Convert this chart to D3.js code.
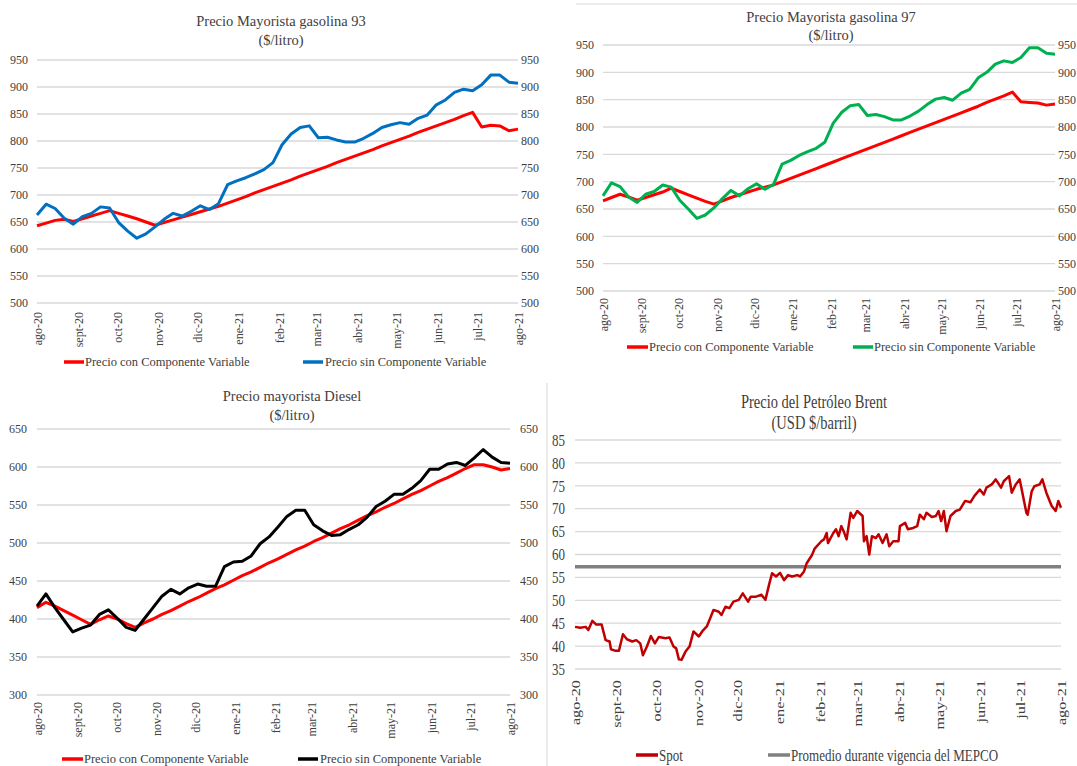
<!DOCTYPE html>
<html><head><meta charset="utf-8">
<script src="https://cdn.jsdelivr.net/npm/d3@7"></script>
<style>
html,body{margin:0;padding:0;background:#fff;}
svg{display:block;}
svg text{font-family:"Liberation Serif","Times New Roman",serif;}
</style></head><body>
<svg id="chart" width="1077" height="766"></svg>
<script>
// ---------- data ----------
const monthDates = ["2020-08-01","2020-09-01","2020-10-01","2020-11-01","2020-12-01","2021-01-01","2021-02-01","2021-03-01","2021-04-01","2021-05-01","2021-06-01","2021-07-01","2021-08-01"];
const monthLabels = ["ago-20","sept-20","oct-20","nov-20","dic-20","ene-21","feb-21","mar-21","abr-21","may-21","jun-21","jul-21","ago-21"];

const fuelTicks93 = [500,550,600,650,700,750,800,850,900,950];
const fuelTicksDiesel = [300,350,400,450,500,550,600,650];
const brentTicks = [35,40,45,50,55,60,65,70,75,80,85];

// Gasolina 93 (weekly)
const g93Con = [643,648,653,655,651,656,661,666,671,666,661,656,650,644,649,654,659,664,669,674,679,
  685,691,697,704,710,716,722,728,735,741,747,753,760,766,772,778,784,791,797,803,809,816,822,828,834,840,847,853,
  826,829,828,819,822];
const g93Sin = [663,683,675,657,646,660,666,678,676,649,633,620,628,641,655,666,661,670,680,673,684,719,726,732,739,747,
  760,793,813,825,828,806,807,802,798,798,805,814,825,830,834,831,842,848,867,876,890,896,893,904,922,922,909,907];

// Gasolina 97 (weekly)
const g97Con = [665,671,677,672,666,671,676,681,688,682,676,670,664,659,665,671,676,681,686,690,694,700,706,712,718,724,
  730,736,742,748,754,760,766,772,778,784,790,796,802,808,814,820,826,832,838,845,851,857,864,846,845,844,840,842];
const g97Sin = [674,698,691,672,662,677,682,694,690,666,650,633,639,652,669,684,674,687,696,686,695,732,739,748,755,761,
  772,807,827,839,841,821,823,819,813,813,820,829,841,851,854,849,862,869,890,900,915,921,918,927,945,945,935,933];

// Diesel (weekly)
const dieselCon = [415,422,417,411,405,399,393,399,404,400,394,389,395,400,406,411,417,423,428,434,440,445,451,457,462,468,
  474,479,485,491,496,502,507,513,519,524,530,536,541,547,552,558,564,569,575,581,586,592,598,603,603,600,596,598];
const dieselSin = [417,433,415,399,383,388,392,406,412,401,389,385,400,415,430,439,433,441,446,443,443,469,475,476,483,499,508,521,
  535,543,543,524,516,510,511,518,524,534,548,555,564,564,572,582,597,597,604,606,602,612,623,613,606,605];

// Brent spot (days since 2020-08-01, USD/barril)
const brentBase = "2020-08-01";
const brentDayOffsets = [0,4,8,10,13,16,20,23,26,27,30,33,36,39,43,46,49,51,54,57,60,63,68,71,74,76,78,80,83,86,89,93,96,99,101,104,108,110,113,116,119,123,126,130,132,136,140,143,146,148,151,154,157,160,163,167,169,172,174,178,180,
  185,187,189,190,192,194,196,198,200,202,204,207,209,212,216,217,219,221,223,226,228,231,234,236,239,243,244,248,250,254,257,259,262,264,268,271,273,275,277,279,282,286,289,293,297,300,304,307,309,313,316,320,322,326,328,331,334,336,339,340,343,345,349,351,354,357,358,361,363,365];
const brentSpot = [44.2,44.0,44.2,43.5,45.5,44.7,44.7,41.3,41.0,39.3,39.0,39.0,42.6,41.5,41.0,41.3,40.6,38.0,39.9,42.2,40.6,42.0,41.7,41.9,39.9,39.5,37.1,37.0,38.8,39.9,43.2,42.1,43.4,44.3,45.7,47.9,47.5,46.8,48.6,48.3,49.7,50.1,51.5,49.7,50.8,50.8,51.2,50.1,53.7,55.9,55.2,56.0,54.4,55.5,55.2,55.5,55.2,56.3,58.1,59.9,61.3,
  62.9,63.3,64.7,62.5,63.6,64.7,65.5,64.0,66.2,64.9,63.3,69.1,68.0,69.5,68.4,62.9,64.0,60.0,64.0,63.6,64.4,62.5,64.4,61.8,62.9,62.9,66.2,66.9,65.5,65.8,66.2,68.7,67.7,69.1,68.2,68.4,69.5,67.3,69.5,65.1,68.4,69.5,69.8,71.7,71.4,72.8,74.2,73.1,74.6,75.3,76.4,74.6,76.0,77.1,73.5,75.3,76.4,73.5,69.1,68.7,73.8,74.9,75.3,76.4,73.5,71.3,70.6,69.5,71.7,70.2];
const mepcoAvg = 57.3;

// ---------- drawing ----------
const FONT = '"Liberation Serif","Times New Roman",serif';
const TXT = "#404040";
const parse = d3.timeParse("%Y-%m-%d");
const svg = d3.select("#chart");
svg.append("rect").attr("width",1077).attr("height",766).attr("fill","#fff");

// frame lines visible in the reference
svg.append("line").attr("x1",576).attr("x2",1077).attr("y1",4).attr("y2",4).attr("stroke","#d9d9d9").attr("stroke-width",1);
svg.append("line").attr("x1",547).attr("x2",547).attr("y1",383).attr("y2",766).attr("stroke","#d9d9d9").attr("stroke-width",1);

function drawPanel(o) {
  const g = svg.append("g");
  const sy = o.textScale || 1;
  const y = d3.scaleLinear().domain([o.yTicks[0], o.yTicks[o.yTicks.length-1]]).range([o.yBottom, o.yTop]);
  const t = d3.scaleTime().domain([parse(monthDates[0]), parse(monthDates[monthDates.length-1])]).range([o.x0, o.x1]);

  // grid
  g.append("g").selectAll("line").data(o.yTicks).join("line")
    .attr("x1", o.x0).attr("x2", o.x1)
    .attr("y1", d => y(d)).attr("y2", d => y(d))
    .attr("stroke", "#d9d9d9").attr("stroke-width", 1.3);

  function styleAxis(sel, fs) {
    sel.attr("font-family", FONT).attr("font-size", fs);
    sel.select(".domain").remove();
    sel.selectAll("text").attr("fill", TXT).style("font-family", FONT).style("font-size", fs + "px");
  }
  // left axis
  const la = g.append("g").attr("transform", `translate(${o.leftX},0)`)
    .call(d3.axisLeft(y).tickValues(o.yTicks).tickSize(0).tickPadding(0).tickFormat(d3.format("d")));
  styleAxis(la, o.tickFont);
  if (sy !== 1) la.selectAll("text").attr("transform", `scale(1,${sy})`);
  // right axis
  if (o.rightX) {
    const ra = g.append("g").attr("transform", `translate(${o.rightX},0)`)
      .call(d3.axisRight(y).tickValues(o.yTicks).tickSize(0).tickPadding(0).tickFormat(d3.format("d")));
    styleAxis(ra, o.tickFont);
  }
  // bottom axis (rotated month labels)
  const ba = g.append("g").attr("transform", `translate(0,${o.xLabelTop})`)
    .call(d3.axisBottom(t).tickValues(monthDates.map(parse)).tickSize(0).tickFormat((d, i) => monthLabels[i]));
  styleAxis(ba, o.tickFont);
  ba.selectAll("text").attr("x", 0).attr("y", 0).attr("dy", "0.35em")
    .attr("text-anchor", "end")
    .attr("transform", sy !== 1 ? `scale(1,${sy}) rotate(-90)` : "rotate(-90)");

  // series
  o.series.forEach(s => {
    if (s.constant !== undefined) {
      g.append("line").attr("x1", o.x0).attr("x2", o.x1)
        .attr("y1", y(s.constant)).attr("y2", y(s.constant))
        .attr("stroke", s.color).attr("stroke-width", s.width);
      return;
    }
    let line;
    if (s.days) {
      const base = parse(s.base);
      line = d3.line().x((d, i) => t(d3.timeDay.offset(base, s.days[i]))).y(d => y(d));
    } else {
      const xi = d3.scaleLinear().domain([0, s.values.length - 1]).range([o.x0, o.x1]);
      line = d3.line().x((d, i) => xi(i)).y(d => y(d));
    }
    g.append("path").datum(s.values).attr("d", line)
      .attr("fill", "none").attr("stroke", s.color).attr("stroke-width", s.width)
      .attr("stroke-linejoin", "round").attr("stroke-linecap", "butt");
  });

  // title
  o.title.forEach((tt, i) => {
    g.append("text").attr("transform", `translate(${o.titleX},${o.titleY[i]}) scale(1,${sy})`)
      .attr("text-anchor", "middle").attr("fill", TXT)
      .style("font-family", FONT).style("font-size", o.titleFont + "px").text(tt);
  });

  // legend
  o.legend.forEach(l => {
    g.append("line").attr("x1", l.x0).attr("x2", l.x1).attr("y1", o.legendY).attr("y2", o.legendY)
      .attr("stroke", l.color).attr("stroke-width", l.width || 3.5);
    g.append("text").attr("transform", `translate(${l.tx},${o.legendY}) scale(1,${sy})`)
      .attr("dy", "0.35em").attr("fill", TXT)
      .style("font-family", FONT).style("font-size", o.legendFont + "px").text(l.label);
  });
}

const RED = "#ff0000", BLUE = "#0070c0", GREEN = "#00b050", BLACK = "#000000";

drawPanel({
  x0: 37, x1: 518, yTop: 60, yBottom: 303, yTicks: fuelTicks93,
  leftX: 28, rightX: 521, xLabelTop: 312,
  tickFont: 12, titleFont: 14.5, legendFont: 12.5,
  title: ["Precio Mayorista gasolina 93", "($/litro)"], titleX: 281, titleY: [26, 45],
  series: [{values: g93Con, color: RED, width: 3}, {values: g93Sin, color: BLUE, width: 3}],
  legendY: 362,
  legend: [{x0: 64, x1: 84, tx: 85, color: RED, label: "Precio con Componente Variable"},
           {x0: 303, x1: 323, tx: 325, color: BLUE, label: "Precio sin Componente Variable"}]
});

drawPanel({
  x0: 603, x1: 1055, yTop: 45, yBottom: 291, yTicks: fuelTicks93,
  leftX: 594, rightX: 1058, xLabelTop: 298,
  tickFont: 12, titleFont: 14.5, legendFont: 12.5,
  title: ["Precio Mayorista gasolina 97", "($/litro)"], titleX: 831, titleY: [22, 40],
  series: [{values: g97Con, color: RED, width: 3}, {values: g97Sin, color: GREEN, width: 3}],
  legendY: 347,
  legend: [{x0: 627, x1: 648, tx: 649, color: RED, label: "Precio con Componente Variable"},
           {x0: 853, x1: 873, tx: 874, color: GREEN, label: "Precio sin Componente Variable"}]
});

drawPanel({
  x0: 37, x1: 510, yTop: 429, yBottom: 695, yTicks: fuelTicksDiesel,
  leftX: 27, rightX: 520, xLabelTop: 702,
  tickFont: 12, titleFont: 14.5, legendFont: 12.5,
  title: ["Precio mayorista Diesel", "($/litro)"], titleX: 292, titleY: [401, 420],
  series: [{values: dieselCon, color: RED, width: 3}, {values: dieselSin, color: BLACK, width: 3}],
  legendY: 759,
  legend: [{x0: 62, x1: 83, tx: 84, color: RED, label: "Precio con Componente Variable"},
           {x0: 298, x1: 318, tx: 320, color: BLACK, label: "Precio sin Componente Variable"}]
});

drawPanel({
  x0: 575, x1: 1061, yTop: 440, yBottom: 669, yTicks: brentTicks,
  leftX: 565, xLabelTop: 680, textScale: 1.25,
  tickFont: 13, titleFont: 14.5, legendFont: 13,
  title: ["Precio del Petróleo Brent", "(USD $/barril)"], titleX: 814, titleY: [408, 429],
  series: [{constant: mepcoAvg, color: "#808080", width: 3.5},
           {values: brentSpot, days: brentDayOffsets, base: brentBase, color: "#c00000", width: 2.5}],
  legendY: 755,
  legend: [{x0: 636, x1: 658, tx: 659, color: "#c00000", label: "Spot"},
           {x0: 768, x1: 790, tx: 791, color: "#808080", label: "Promedio durante vigencia del MEPCO"}]
});
</script>
</body></html>
